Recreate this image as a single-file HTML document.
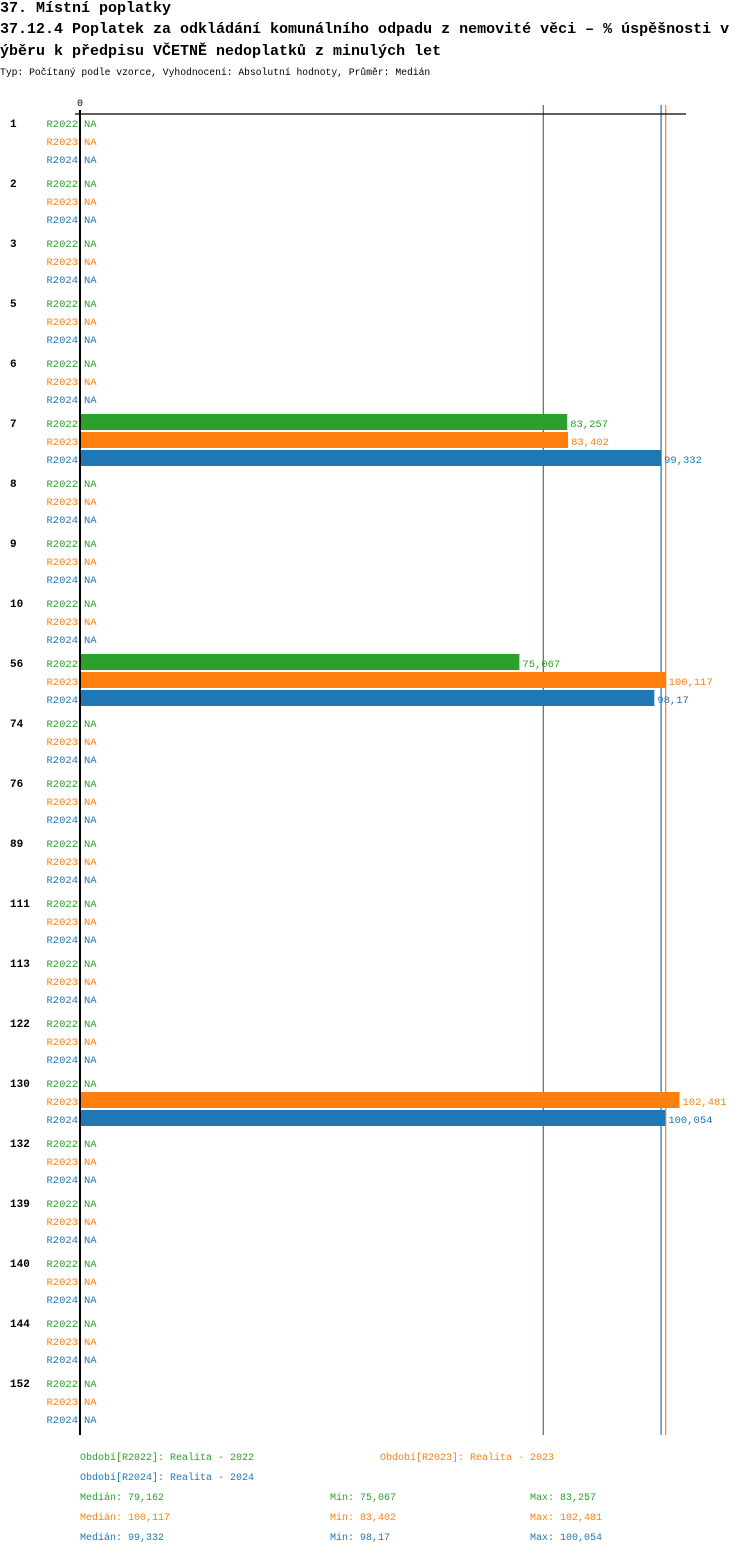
<!DOCTYPE html>
<html><head><meta charset="utf-8"><style>
body{margin:0;background:#fff;width:750px;height:1554px;overflow:hidden;font-family:"Liberation Mono",monospace}
.t{position:absolute;left:0;font-size:15px;font-weight:bold;white-space:nowrap;color:#000}
</style></head><body>
<div class="t" style="top:0px">37. Místní poplatky</div>
<div class="t" style="top:21px">37.12.4 Poplatek za odkládání komunálního odpadu z nemovité věci – % úspěšnosti v</div>
<div class="t" style="top:43px">ýběru k předpisu VČETNĚ nedoplatků z minulých let</div>
<div style="position:absolute;left:0;top:67px;font-size:9.7px;white-space:nowrap">Typ: Počítaný podle vzorce, Vyhodnocení: Absolutní hodnoty, Průměr: Medián</div>
<svg id="c" width="750" height="1554" style="position:absolute;left:0;top:0" font-family="Liberation Mono, monospace"></svg>
<script>
const groups=["1","2","3","5","6","7","8","9","10","56","74","76","89","111","113","122","130","132","139","140","144","152"];
const series=["R2022","R2023","R2024"];
const colors=["#2ca02c","#ff7f0e","#1f77b4"];
const v2022=[null,null,null,null,null,83.257,null,null,null,75.067,null,null,null,null,null,null,null,null,null,null,null,null];
const v2023=[null,null,null,null,null,83.402,null,null,null,100.117,null,null,null,null,null,null,102.481,null,null,null,null,null];
const v2024=[null,null,null,null,null,99.332,null,null,null,98.17,null,null,null,null,null,null,100.054,null,null,null,null,null];
const medians=[79.162,100.117,99.332];
const vals=[v2022,v2023,v2024];
const svg=document.getElementById('c');const NS='http://www.w3.org/2000/svg';
const x=v=>81+v*5.84;
const rowY=(g,s)=>123+g*60+s*18;
function mk(t,a,txt){const e=document.createElementNS(NS,t);for(const k in a)e.setAttribute(k,a[k]);if(txt!=null)e.textContent=txt;svg.appendChild(e);return e;}
const fmt=v=>String(v).replace('.',',');
medians.forEach((m,i)=>{const l=mk('line',{x1:x(m),x2:x(m),y1:105,y2:1435,stroke:i==0?'#4a7a4a':colors[i],'stroke-width':1.2});

});
const ax=mk('line',{x1:75,x2:686,y1:114,y2:114,stroke:'#000','stroke-width':1.3});


const z=mk('text',{x:80,y:106,'font-size':10,'text-anchor':'middle'},'0');


groups.forEach((g,gi)=>{
 const gl=mk('text',{x:10,y:rowY(gi,0)+4,'font-size':11,'font-weight':'bold'},g);
 
 
 series.forEach((s,si)=>{
  const y=rowY(gi,si);
  const sl=mk('text',{x:78,y:y+4,'font-size':10.5,'text-anchor':'end',fill:colors[si]},s);
  
  
  const v=vals[si][gi];
  if(v==null){const na=mk('text',{x:84,y:y+4,'font-size':10.5,fill:colors[si]},'NA');
   
   }
  else{const b=mk('rect',{x:81,y:y-9,width:x(v)-81,height:16,fill:colors[si]});
   
   
   const vl=mk('text',{x:x(v)+3,y:y+4,'font-size':10.5,fill:colors[si]},fmt(v));
   
   }
 });
});
const ya=mk('line',{x1:80,x2:80,y1:110,y2:1435,stroke:'#000','stroke-width':2});


const leg=[["Období[R2022]: Realita - 2022",80,1460,0],["Období[R2023]: Realita - 2023",380,1460,1],["Období[R2024]: Realita - 2024",80,1480,2]];
leg.forEach(l=>{const e=mk('text',{x:l[1],y:l[2],'font-size':10,fill:colors[l[3]]},l[0]);
 
 });
const stats=[["Medián: 79,162","Min: 75,067","Max: 83,257"],["Medián: 100,117","Min: 83,402","Max: 102,481"],["Medián: 99,332","Min: 98,17","Max: 100,054"]];
stats.forEach((r,i)=>r.forEach((t,j)=>{const e=mk('text',{x:[80,330,530][j],y:1500+i*20,'font-size':10,fill:colors[i]},t);
 
 }));
</script>
</body></html>
